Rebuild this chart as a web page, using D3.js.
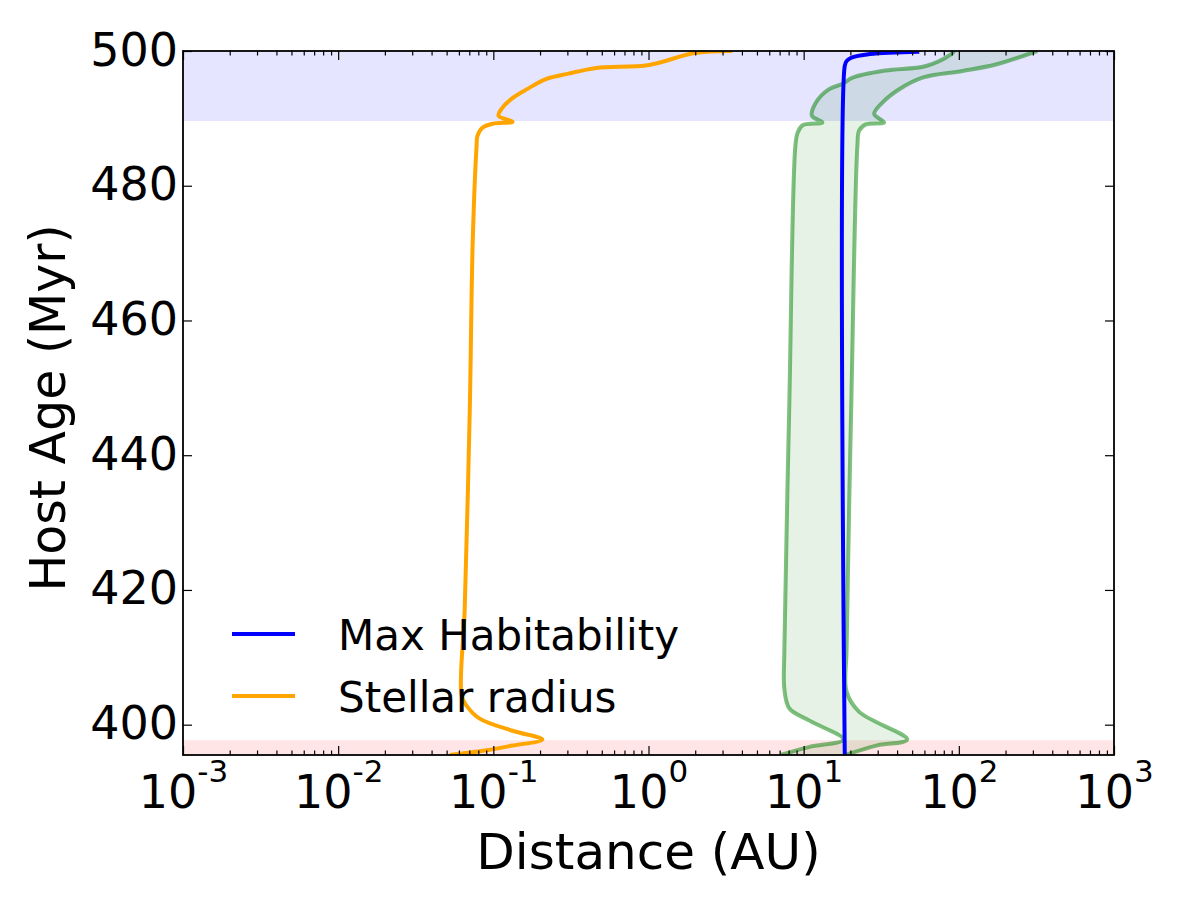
<!DOCTYPE html>
<html><head><meta charset="utf-8">
<script src="https://cdn.jsdelivr.net/npm/d3@7"></script>
<style>body{margin:0;background:#fff} text{font-family:"DejaVu Sans",sans-serif;fill:#000}</style>
</head><body><svg id="c" width="1200" height="900"></svg>
<script>
// ---- data ----
const yTicks = [400, 420, 440, 460, 480, 500];
const xTickExps = [-3, -2, -1, 0, 1, 2, 3];
const seriesNames = ["Max Habitability", "Stellar radius"];
const seriesColors = ["#0000ff", "#ffa500"];
const ageDomain = [395.5, 500];
const distDomain = [1e-3, 1e3];
const blueBand = [489.6, 500];
const redBand = [395.5, 397.7];
// [age (Myr), distance (AU)]
const stellarRadius = [[500,3.47],[499.7,1.98],[497.93,1.01],[497.49,0.46],[496.6,0.30],[495.86,0.22],[494.38,0.166],[492.9,0.131],[491.42,0.113],[490.38,0.108],[489.5,0.133],[489.2,0.099],[488.6,0.085],[487.4,0.079],[485.9,0.078],[471.4,0.0736],[446.7,0.0705],[417.2,0.0654],[404.3,0.0625],[402.8,0.0673],[400.9,0.0817],[399.1,0.133],[397.8,0.207],[396.9,0.133],[396.2,0.0906],[395.5,0.0524]];
const maxHabitability = [[395.5,18.4],[497.8,18.4],[498.5,18.9],[498.96,20.1],[499.56,26.8],[499.9,55.6]];
const hzInner = [[500,93.3],[499.51,88.9],[497.78,61.4],[497.1,33.6],[496.05,20.7],[495.1,17.7],[494.33,14.6],[492.35,12.0],[490.38,11.3],[489.4,13.2],[488.98,9.85],[487.9,9.15],[485.9,8.84],[448.2,8.09],[411.2,7.51],[405.3,7.51],[402.4,8.09],[400.6,10.9],[397.8,18.0],[396.7,10.9],[395.5,7.08]];
const hzOuter = [[500,320],[498.0,173],[497.04,105.6],[496.05,58.3],[494.33,41.3],[492.35,32.2],[490.64,28.5],[489.4,33.0],[489.1,25.2],[488.2,22.8],[485.9,22.2],[448.2,20.3],[411.2,18.9],[404.9,18.9],[401.9,22.8],[397.8,46.5],[396.9,29.4],[395.5,18.6]];

// ---- layout ----
const M = {left:183, right:1114, top:51, bottom:755};
const svg = d3.select("#c");
const x = d3.scaleLog().domain(distDomain).range([M.left, M.right]);
const y = d3.scaleLinear().domain(ageDomain).range([M.bottom, M.top]);

svg.append("defs").append("clipPath").attr("id","clip")
  .append("rect").attr("x",M.left).attr("y",M.top).attr("width",M.right-M.left).attr("height",M.bottom-M.top);
const plot = svg.append("g").attr("clip-path","url(#clip)");

// bands
[[blueBand,"#0000ff"],[redBand,"#ff0000"]].forEach(([b,c])=>{
  plot.append("rect").attr("x",M.left).attr("width",M.right-M.left)
    .attr("y",y(b[1])).attr("height",y(b[0])-y(b[1]))
    .attr("fill",c).attr("fill-opacity",0.1);
});

const line = d3.line().x(d=>x(d[1])).y(d=>y(d[0])).curve(d3.curveCatmullRom.alpha(0.5));

// fill between HZ boundaries
const poly = hzInner.concat(hzOuter.slice().reverse());
plot.append("path").attr("d", d3.line().x(d=>x(d[1])).y(d=>y(d[0])).curve(d3.curveCatmullRomClosed.alpha(0.5))(poly))
  .attr("fill","#008000").attr("fill-opacity",0.1).attr("stroke","none");
[hzInner, hzOuter].forEach(s=>{
  plot.append("path").attr("d",line(s)).attr("fill","none")
    .attr("stroke","#008000").attr("stroke-opacity",0.5).attr("stroke-width",4).attr("stroke-linejoin","round");
});
plot.append("path").attr("d",line(maxHabitability)).attr("fill","none")
  .attr("stroke",seriesColors[0]).attr("stroke-width",4);
plot.append("path").attr("d",line(stellarRadius)).attr("fill","none")
  .attr("stroke",seriesColors[1]).attr("stroke-width",4).attr("stroke-linejoin","round");

// ---- axes ----
const minor = [];
for (let e=-3;e<3;e++) for (let k=2;k<=9;k++) minor.push(k*Math.pow(10,e));
const major = xTickExps.map(e=>Math.pow(10,e));
function styleAxis(g){ g.select(".domain").remove(); g.selectAll("line").attr("stroke","#000").attr("stroke-width",1.2); }
svg.append("g").attr("transform",`translate(0,${M.bottom})`).call(d3.axisBottom(x).tickValues(minor).tickSize(-4.5).tickFormat("")).call(styleAxis);
svg.append("g").attr("transform",`translate(0,${M.top})`).call(d3.axisTop(x).tickValues(minor).tickSize(-4.5).tickFormat("")).call(styleAxis);
svg.append("g").attr("transform",`translate(0,${M.top})`).call(d3.axisTop(x).tickValues(major).tickSize(-9).tickFormat("")).call(styleAxis);
const xb = svg.append("g").attr("transform",`translate(0,${M.bottom})`).call(d3.axisBottom(x).tickValues(major).tickSize(-9).tickFormat("")).call(styleAxis);
xb.selectAll(".tick").each(function(d,i){
  const t = d3.select(this).append("text").attr("x",0).attr("y",53).attr("text-anchor","middle")
    .style("font-size","46px").attr("fill","#000");
  t.append("tspan").text("10");
  t.append("tspan").attr("dy",-26).style("font-size","31px").text(String(xTickExps[i]));
});
const yl = svg.append("g").attr("transform",`translate(${M.left},0)`).call(d3.axisLeft(y).tickValues(yTicks).tickSize(-9).tickFormat("")).call(styleAxis);
svg.append("g").attr("transform",`translate(${M.right},0)`).call(d3.axisRight(y).tickValues(yTicks).tickSize(-9).tickFormat("")).call(styleAxis);
yl.selectAll(".tick").append("text").attr("x",-5).attr("y",14).attr("text-anchor","end")
  .style("font-size","46px").attr("fill","#000").text(d=>d);

// spines
svg.append("rect").attr("x",M.left).attr("y",M.top).attr("width",M.right-M.left).attr("height",M.bottom-M.top)
  .attr("fill","none").attr("stroke","#000").attr("stroke-width",1.8);

// axis labels
svg.append("text").attr("x",(M.left+M.right)/2).attr("y",869).attr("text-anchor","middle")
  .style("font-size","50px").text("Distance (AU)");
svg.append("text").attr("transform",`translate(65,${(M.top+M.bottom)/2+5}) rotate(-90)`).attr("text-anchor","middle")
  .style("font-size","49px").text("Host Age (Myr)");

// legend
const legY = [634, 696];
seriesNames.forEach((n,i)=>{
  svg.append("line").attr("x1",232).attr("x2",295).attr("y1",legY[i]).attr("y2",legY[i])
    .attr("stroke",seriesColors[i]).attr("stroke-width",4);
  svg.append("text").attr("x",338).attr("y",legY[i]+16).style("font-size","42px").text(n);
});
</script></body></html>
